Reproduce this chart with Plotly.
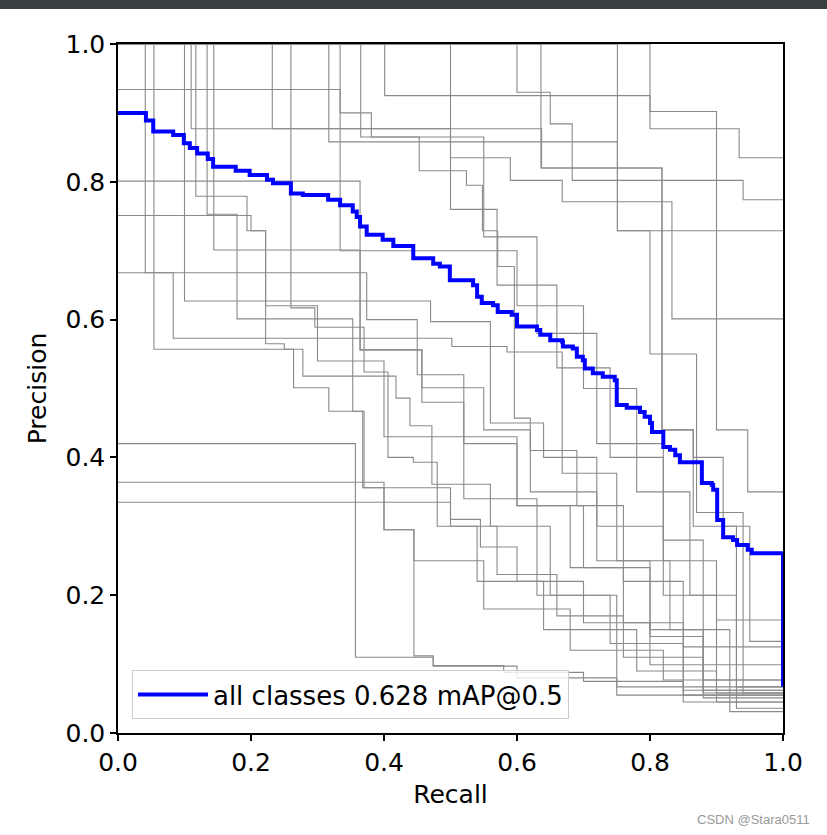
import plotly.graph_objects as go

# ---- mean PR curve (all classes) : recall where a step starts, precision level ----
all_recall = [0.0, 0.042, 0.053, 0.083, 0.099, 0.108, 0.119, 0.135, 0.143, 0.177, 0.198, 0.224,
              0.233, 0.260, 0.278, 0.316, 0.334, 0.353, 0.359, 0.364, 0.374, 0.398, 0.414, 0.444,
              0.474, 0.484, 0.499, 0.534, 0.540, 0.547, 0.564, 0.571, 0.592, 0.600, 0.630, 0.635,
              0.650, 0.668, 0.669, 0.684, 0.690, 0.699, 0.702, 0.714, 0.729, 0.747, 0.750, 0.765,
              0.785, 0.792, 0.800, 0.803, 0.820, 0.830, 0.838, 0.845, 0.878, 0.893, 0.895, 0.901,
              0.910, 0.925, 0.931, 0.947, 0.953, 1.0]
all_precision = [0.900, 0.889, 0.873, 0.868, 0.856, 0.849, 0.841, 0.833, 0.822, 0.816, 0.810, 0.803,
                 0.798, 0.783, 0.781, 0.774, 0.766, 0.757, 0.749, 0.735, 0.723, 0.716, 0.707, 0.689,
                 0.681, 0.677, 0.657, 0.650, 0.633, 0.624, 0.621, 0.611, 0.607, 0.590, 0.585, 0.578,
                 0.570, 0.568, 0.561, 0.558, 0.546, 0.541, 0.529, 0.522, 0.517, 0.512, 0.476, 0.472,
                 0.466, 0.459, 0.450, 0.437, 0.415, 0.411, 0.403, 0.393, 0.363, 0.360, 0.353, 0.309,
                 0.284, 0.280, 0.273, 0.266, 0.261, 0.067]
map_label = "all classes 0.628 mAP@0.5"

# ---- per-class PR curves (step starts in recall, precision levels) ----
cls01_r = [0, .041, .083, .502, .585, .668, .69, .76, .85]
cls01_p = [1, .668, .573, .561, .553, .377, .33, .22, .125]
cls02_r = [0, .054, .264, .317, .368, .50, .545, .60, .70, .80]
cls02_p = [1, .557, .501, .467, .356, .31, .27, .22, .16, .099]
cls03_r = [0, .10, .47, .56, .64, .72, .82, .90]
cls03_p = [1, .627, .597, .45, .40, .30, .20, .164]
cls04_r = [0, .117, .194, .222, .25, .278, .418, .439, .472, .56, .65, .74, .85]
cls04_p = [1, .779, .729, .565, .557, .518, .486, .446, .361, .30, .20, .13, .062]
cls05_r = [0, .11, .637, .818, .865, .91, .95]
cls05_p = [1, .877, .82, .44, .40, .30, .133]
cls06_r = [0, .134, .179, .353, .37, .40, .445, .474, .60, .75]
cls06_p = [1, .753, .601, .467, .356, .295, .112, .097, .08, .055]
cls07_r = [0, .144, .364, .457, .55, .62, .72, .80, .88]
cls07_p = [1, .701, .556, .501, .44, .35, .25, .15, .077]
cls08_r = [0, .232, .50, .59, .668, .833]
cls08_p = [1, .877, .835, .802, .771, .601]
cls09_r = [0, .26, .296, .37, .406, .444, .48, .54, .64, .78, .90]
cls09_p = [1, .617, .589, .524, .40, .393, .30, .22, .15, .09, .058]
cls10_r = [0, .317, .751]
cls10_p = [1, .858, .729]
cls11_r = [0, .334, .60, .70, .78, .86, .93]
cls11_p = [1, .70, .62, .50, .35, .20, .067]
cls12_r = [0, .365, .55, .63, .72, .82, .90]
cls12_p = [1, .865, .72, .58, .42, .25, .045]
cls13_r = [0, .401, .80, .934]
cls13_p = [1, .925, .877, .835]
cls14_r = [0, .50, .57, .66, .74, .82, .88]
cls14_p = [1, .76, .65, .53, .40, .28, .051]
cls15_r = [0, .60, .65, .683, .94]
cls15_p = [1, .93, .884, .802, .774]
cls16_r = [0, .636, .818, .865, .93]
cls16_p = [1, .82, .44, .30, .036]
cls17_r = [0, .751, .80, .87, .94]
cls17_p = [1, .729, .55, .32, .058]
cls18_r = [0, .80, .90, .947]
cls18_p = [1, .902, .44, .35]
cls19_r = [0, .334, .381, .453, .524, .548, .571, .596, .62, .69, .75, .83, .92]
cls19_p = [.934, .90, .865, .816, .795, .729, .677, .457, .41, .377, .25, .15, .031]
cls20_r = [0, .364, .457, .52, .60, .68, .76, .85]
cls20_p = [.801, .556, .48, .42, .33, .24, .16, .055]
cls21_r = [0, .20, .222, .30, .40, .52, .63, .75]
cls21_p = [.751, .729, .62, .54, .43, .34, .20, .067]
cls22_r = [0, .374, .45, .52, .60, .70, .80, .88]
cls22_p = [.668, .60, .52, .43, .33, .24, .14, .062]
cls23_r = [0, .357, .474, .58, .70, .85]
cls23_p = [.42, .11, .098, .088, .075, .045]
cls24_r = [0, .40, .445, .55, .68, .82]
cls24_p = [.364, .295, .25, .18, .12, .077]
cls25_r = [0, .50, .57, .66, .76, .88]
cls25_p = [.335, .30, .23, .17, .11, .058]

class_curves = [
    (cls01_r, cls01_p), (cls02_r, cls02_p), (cls03_r, cls03_p), (cls04_r, cls04_p),
    (cls05_r, cls05_p), (cls06_r, cls06_p), (cls07_r, cls07_p), (cls08_r, cls08_p),
    (cls09_r, cls09_p), (cls10_r, cls10_p), (cls11_r, cls11_p), (cls12_r, cls12_p),
    (cls13_r, cls13_p), (cls14_r, cls14_p), (cls15_r, cls15_p), (cls16_r, cls16_p),
    (cls17_r, cls17_p), (cls18_r, cls18_p), (cls19_r, cls19_p), (cls20_r, cls20_p),
    (cls21_r, cls21_p), (cls22_r, cls22_p), (cls23_r, cls23_p), (cls24_r, cls24_p),
    (cls25_r, cls25_p),
]

tick_vals = [0.0, 0.2, 0.4, 0.6, 0.8, 1.0]
tick_text = ["0.0", "0.2", "0.4", "0.6", "0.8", "1.0"]

FONT = "DejaVu Sans"
fig = go.Figure()

for r, p in class_curves:
    fig.add_trace(go.Scatter(
        x=list(r) + [1.0], y=list(p) + [p[-1]],
        mode="lines", line=dict(color="#8a8a8a", width=1.1, shape="hv"),
        showlegend=False, hoverinfo="skip"))

fig.add_trace(go.Scatter(
    x=all_recall, y=all_precision, mode="lines", name=map_label,
    line=dict(color="#0000ff", width=4, shape="hv")))

axis_common = dict(
    range=[0, 1], tickvals=tick_vals, ticktext=tick_text,
    showgrid=False, zeroline=False, showline=True, linecolor="black", linewidth=1.5,
    mirror=True, ticks="outside", ticklen=6, tickwidth=1.5, tickcolor="black",
    tickfont=dict(family=FONT, size=25, color="black"),
)

fig.update_layout(
    width=827, height=835,
    margin=dict(l=118, r=44, t=44, b=102),
    paper_bgcolor="white", plot_bgcolor="white",
    xaxis=dict(axis_common, title=dict(text="Recall", font=dict(family=FONT, size=25, color="black"), standoff=10)),
    yaxis=dict(axis_common, title=dict(text="Precision", font=dict(family=FONT, size=25, color="black"), standoff=12)),
    legend=dict(x=0.021, y=0.02, xanchor="left", yanchor="bottom", itemwidth=70,
                bgcolor="rgba(255,255,255,0.8)", bordercolor="#cccccc", borderwidth=1,
                font=dict(family=FONT, size=26, color="black")),
    shapes=[dict(type="rect", xref="paper", yref="paper", x0=-0.2, x1=1.1,
                 y0=1 + 35 / 689, y1=1 + 50 / 689, fillcolor="#3b3e42", line=dict(width=0),
                 layer="above")],
    annotations=[dict(text="CSDN @Stara0511", xref="paper", yref="paper",
                      x=(812 - 118) / 665, y=-(819 - 733) / 689, xanchor="right", yanchor="middle",
                      showarrow=False, font=dict(family="Liberation Sans", size=13, color="#9a9a9a"))],
)

fig.write_html("out.html", config={"displayModeBar": False},
               post_script="document.body.style.margin='0px';document.body.style.overflow='hidden';")
